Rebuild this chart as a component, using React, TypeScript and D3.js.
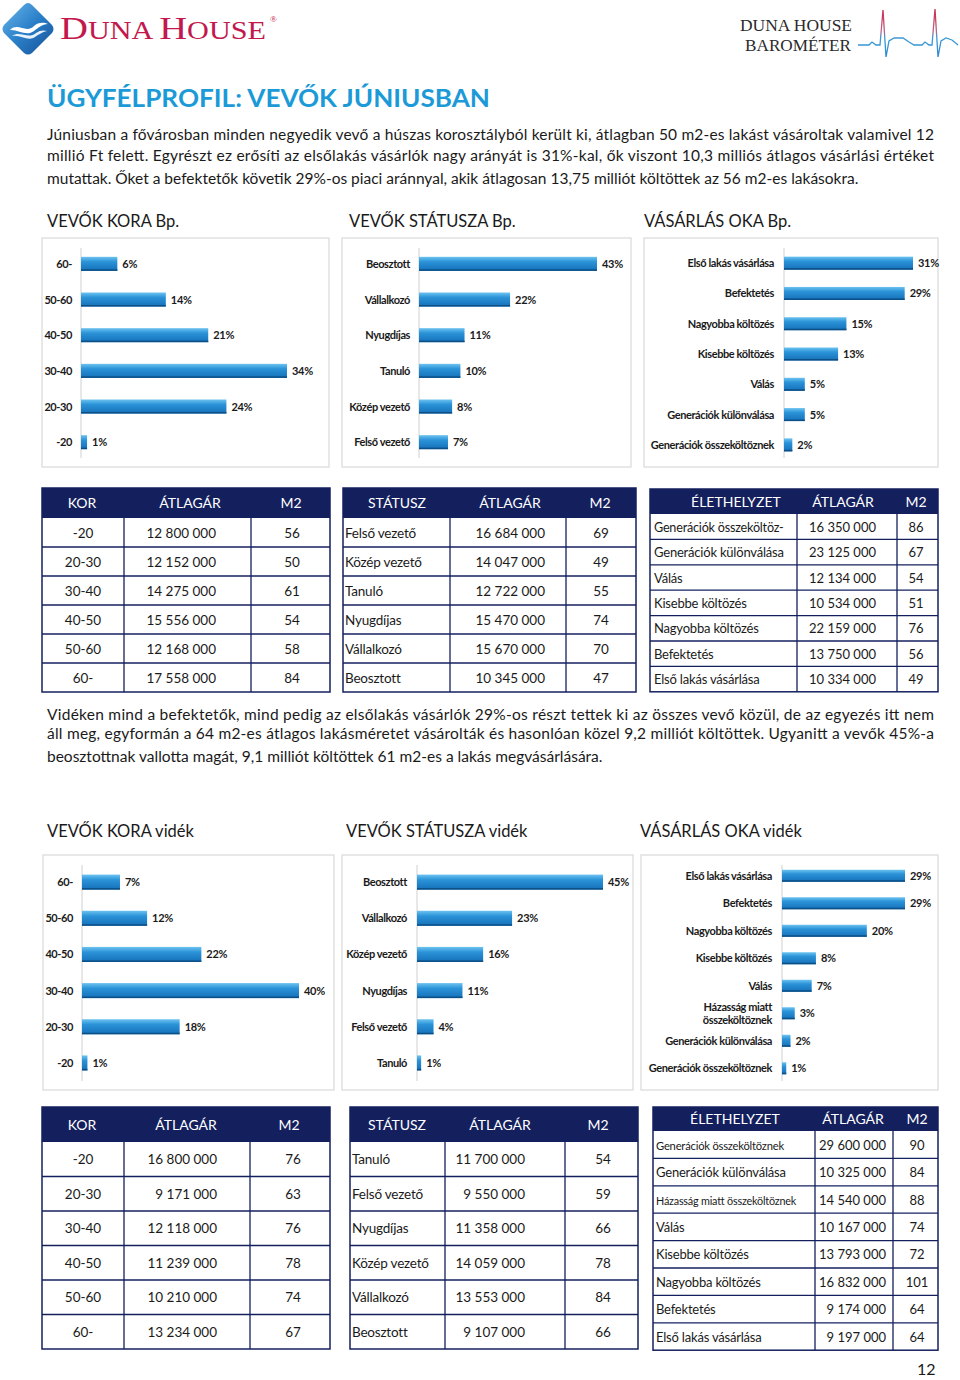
import React from "react";
import * as d3 from "d3";

const FONT = "Lato, 'Open Sans', sans-serif";
const NAVY = "#14205e";
const TEXT = "#1a1a1a";

// ---------- Bar chart data ----------
const ageCats = ["60-", "50-60", "40-50", "30-40", "20-30", "-20"];
const ageBpVals = [6, 14, 21, 34, 24, 1];
const ageVidVals = [7, 12, 22, 40, 18, 1];

const statusBpCats = ["Beosztott", "Vállalkozó", "Nyugdíjas", "Tanuló", "Közép vezető", "Felső vezető"];
const statusBpVals = [43, 22, 11, 10, 8, 7];
const statusVidCats = ["Beosztott", "Vállalkozó", "Közép vezető", "Nyugdíjas", "Felső vezető", "Tanuló"];
const statusVidVals = [45, 23, 16, 11, 4, 1];

const reasonBpCats = [
  "Első lakás vásárlása",
  "Befektetés",
  "Nagyobba költözés",
  "Kisebbe költözés",
  "Válás",
  "Generációk különválása",
  "Generációk összeköltöznek",
];
const reasonBpVals = [31, 29, 15, 13, 5, 5, 2];
const reasonVidCats = [
  "Első lakás vásárlása",
  "Befektetés",
  "Nagyobba költözés",
  "Kisebbe költözés",
  "Válás",
  "Házasság miatt\nösszeköltöznek",
  "Generációk különválása",
  "Generációk összeköltöznek",
];
const reasonVidVals = [29, 29, 20, 8, 7, 3, 2, 1];

// ---------- Table data ----------
const ageTblCats = ["-20", "20-30", "30-40", "40-50", "50-60", "60-"];
const ageTblPriceBp = ["12 800 000", "12 152 000", "14 275 000", "15 556 000", "12 168 000", "17 558 000"];
const ageTblM2Bp = ["56", "50", "61", "54", "58", "84"];
const ageTblPriceVid = ["16 800 000", "9 171 000", "12 118 000", "11 239 000", "10 210 000", "13 234 000"];
const ageTblM2Vid = ["76", "63", "76", "78", "74", "67"];

const statusTblCatsBp = ["Felső vezető", "Közép vezető", "Tanuló", "Nyugdíjas", "Vállalkozó", "Beosztott"];
const statusTblPriceBp = ["16 684 000", "14 047 000", "12 722 000", "15 470 000", "15 670 000", "10 345 000"];
const statusTblM2Bp = ["69", "49", "55", "74", "70", "47"];
const statusTblCatsVid = ["Tanuló", "Felső vezető", "Nyugdíjas", "Közép vezető", "Vállalkozó", "Beosztott"];
const statusTblPriceVid = ["11 700 000", "9 550 000", "11 358 000", "14 059 000", "13 553 000", "9 107 000"];
const statusTblM2Vid = ["54", "59", "66", "78", "84", "66"];

const lifeTblCatsBp = [
  "Generációk összeköltöz-",
  "Generációk különválása",
  "Válás",
  "Kisebbe költözés",
  "Nagyobba költözés",
  "Befektetés",
  "Első lakás vásárlása",
];
const lifeTblPriceBp = ["16 350 000", "23 125 000", "12 134 000", "10 534 000", "22 159 000", "13 750 000", "10 334 000"];
const lifeTblM2Bp = ["86", "67", "54", "51", "76", "56", "49"];
const lifeTblCatsVid = [
  "Generációk összeköltöznek",
  "Generációk különválása",
  "Házasság miatt összeköltöznek",
  "Válás",
  "Kisebbe költözés",
  "Nagyobba költözés",
  "Befektetés",
  "Első lakás vásárlása",
];
const lifeTblPriceVid = ["29 600 000", "10 325 000", "14 540 000", "10 167 000", "13 793 000", "16 832 000", "9 174 000", "9 197 000"];
const lifeTblM2Vid = ["90", "84", "88", "74", "72", "101", "64", "64"];

// ---------- Texts ----------
const para1 = [
  "Júniusban a fővárosban minden negyedik vevő a húszas korosztályból került ki, átlagban 50 m2-es lakást vásároltak valamivel 12",
  "millió Ft felett. Egyrészt ez erősíti az elsőlakás vásárlók nagy arányát is 31%-kal, ők viszont 10,3 milliós átlagos vásárlási értéket",
  "mutattak. Őket a befektetők követik 29%-os piaci aránnyal, akik átlagosan 13,75 milliót költöttek az 56 m2-es lakásokra.",
];
const para2 = [
  "Vidéken mind a befektetők, mind pedig az elsőlakás vásárlók 29%-os részt tettek ki az összes vevő közül, de az egyezés itt nem",
  "áll meg, egyformán a 64 m2-es átlagos lakásméretet vásárolták és hasonlóan közel 9,2 milliót költöttek. Ugyanitt a vevők 45%-a",
  "beosztottnak vallotta magát, 9,1 milliót költöttek 61 m2-es a lakás megvásárlására.",
];

type BarProps = {
  box: [number, number, number, number];
  cats: string[];
  vals: number[];
  axisX: number;
  endX: number;
  yRange: [number, number];
  barH: number;
  labelGap: number;
};

function BarChart({ box, cats, vals, axisX, endX, yRange, barH, labelGap }: BarProps) {
  const max = d3.max(vals) as number;
  const x = d3.scaleLinear().domain([0, max]).range([axisX, endX]);
  const step = (yRange[1] - yRange[0]) / cats.length;
  const pad = 1 - barH / step;
  const y = d3.scaleBand<string>().domain(cats).range(yRange).paddingInner(pad).paddingOuter(pad / 2);
  return (
    <g>
      <rect x={box[0]} y={box[1]} width={box[2] - box[0]} height={box[3] - box[1]} fill="#fff" stroke="#d9d9d9" strokeWidth={1.2} />
      <line x1={axisX} x2={axisX} y1={box[1] + 10} y2={box[3] - 9} stroke="#d0d0d0" strokeWidth={1} />
      {cats.map((c, i) => {
        const by = y(c) as number;
        const bw = y.bandwidth();
        const cy = by + bw / 2;
        const lines = c.split("\n");
        return (
          <g key={c}>
            <rect x={axisX} y={by} width={x(vals[i]) - axisX} height={bw} fill="url(#barGrad)" />
            <rect x={axisX} y={by + bw - 1.5} width={x(vals[i]) - axisX} height={1.5} fill="#0b4f86" />
            <text
              x={x(vals[i]) + 5}
              y={cy + 4}
              fontFamily={FONT}
              fontWeight={700}
              fontSize={11}
              letterSpacing={-0.3}
              fill={TEXT}
            >
              {vals[i] + "%"}
            </text>
            <text
              x={axisX - labelGap}
              y={cy + 4 - (lines.length - 1) * 6.5}
              textAnchor="end"
              fontFamily={FONT}
              fontWeight={700}
              fontSize={11}
              letterSpacing={-0.4}
              fill={TEXT}
            >
              {lines.map((l, k) => (
                <tspan key={k} x={axisX - labelGap} dy={k === 0 ? 0 : 13}>
                  {l}
                </tspan>
              ))}
            </text>
          </g>
        );
      })}
    </g>
  );
}

type TableProps = {
  xs: number[];
  headTop: number;
  headBot: number;
  rowH: number;
  headers: string[];
  headerX: number[];
  cats: string[];
  prices: string[];
  m2: string[];
  catAlign: "center" | "left";
  catX: number;
  priceX: number;
  m2X: number;
  fontSize: number;
  catSizes?: number[];
};

function Table(p: TableProps) {
  const n = p.cats.length;
  const bottom = p.headBot + n * p.rowH;
  const x0 = p.xs[0];
  const x3 = p.xs[p.xs.length - 1];
  return (
    <g fontFamily={FONT}>
      <rect x={x0} y={p.headTop} width={x3 - x0} height={bottom - p.headTop} fill="#fff" stroke={NAVY} strokeWidth={1.5} />
      <rect x={x0} y={p.headTop} width={x3 - x0} height={p.headBot - p.headTop} fill={NAVY} />
      {p.headers.map((h, i) => (
        <text key={h} x={p.headerX[i]} y={(p.headTop + p.headBot) / 2 + 5} textAnchor="middle" fill="#fff" fontSize={14}>
          {h}
        </text>
      ))}
      {d3.range(1, n).map((i) => (
        <line key={"h" + i} x1={x0} x2={x3} y1={p.headBot + i * p.rowH} y2={p.headBot + i * p.rowH} stroke={NAVY} strokeWidth={1.3} />
      ))}
      {p.xs.slice(1, -1).map((xx, i) => (
        <line key={"v" + i} x1={xx} x2={xx} y1={p.headBot} y2={bottom} stroke={NAVY} strokeWidth={1.3} />
      ))}
      {p.cats.map((c, i) => {
        const cy = p.headBot + (i + 0.5) * p.rowH + 5;
        const cs = p.catSizes ? p.catSizes[i] : p.fontSize;
        return (
          <g key={i} fill={TEXT}>
            <text
              x={p.catX}
              y={cy}
              textAnchor={p.catAlign === "center" ? "middle" : "start"}
              fontSize={cs}
              letterSpacing={p.catAlign === "left" ? -0.2 : 0}
            >
              {c}
            </text>
            <text x={p.priceX} y={cy} textAnchor="end" fontSize={p.fontSize}>
              {p.prices[i]}
            </text>
            <text x={p.m2X} y={cy} textAnchor="middle" fontSize={p.fontSize}>
              {p.m2[i]}
            </text>
          </g>
        );
      })}
    </g>
  );
}

function Paragraph({ lines, y0 }: { lines: string[]; y0: number[] }) {
  return (
    <g fontFamily={FONT} fontSize={15.5} fill={TEXT}>
      {lines.map((l, i) =>
        i < lines.length - 1 ? (
          <text key={i} x={47} y={y0[i]} textLength={887} lengthAdjust="spacing">
            {l}
          </text>
        ) : (
          <text key={i} x={47} y={y0[i]}>
            {l}
          </text>
        )
      )}
    </g>
  );
}

export default function App() {
  return (
    <svg width={960} height={1380} style={{ position: "absolute", left: 0, top: 0, background: "#fff" }}>
      <defs>
        <linearGradient id="barGrad" x1="0" y1="0" x2="0" y2="1">
          <stop offset="0" stopColor="#6cc3f0" />
          <stop offset="0.35" stopColor="#2b93d8" />
          <stop offset="1" stopColor="#1570b8" />
        </linearGradient>
        <linearGradient id="logoGrad" x1="0" y1="0" x2="1" y2="1">
          <stop offset="0" stopColor="#6ab7ea" />
          <stop offset="0.5" stopColor="#2a7fc8" />
          <stop offset="1" stopColor="#174f96" />
        </linearGradient>
        <linearGradient id="beatGrad" x1="0" y1="8" x2="0" y2="58" gradientUnits="userSpaceOnUse">
          <stop offset="0" stopColor="#c8284c" />
          <stop offset="0.45" stopColor="#c06080" />
          <stop offset="0.6" stopColor="#3a9ad6" />
          <stop offset="1" stopColor="#2a8ad0" />
        </linearGradient>
      </defs>
      <rect x={0} y={0} width={960} height={1380} fill="#fff" />

      {/* Logo */}
      <g>
        <path d="M28,3 Q30,3 32,5 L52,25 Q55,29 52,33 L32,53 Q28,56 24,53 L4,33 Q1,29 4,25 L24,5 Q26,3 28,3 Z" fill="url(#logoGrad)" />
        <path d="M10,30 C18,22 26,34 34,26 C38,22 44,22 48,24 C42,24 38,28 34,31 C26,37 18,29 10,30 Z" fill="#fff" />
        <path d="M12,36 C20,30 28,40 36,33 C40,30 44,30 47,31 C42,32 38,35 35,37 C28,42 20,34 12,36 Z" fill="#fff" opacity={0.9} />
        <text x={60} y={39} fontFamily="'Liberation Serif', serif" fill="#c2184d" textLength={206} lengthAdjust="spacingAndGlyphs">
          <tspan fontSize={32}>D</tspan>
          <tspan fontSize={25}>UNA </tspan>
          <tspan fontSize={32}>H</tspan>
          <tspan fontSize={25}>OUSE</tspan>
        </text>
        <text x={270} y={22} fontFamily="'Liberation Serif', serif" fontSize={9} fill="#c2184d">
          ®
        </text>
      </g>
      <g fontFamily="'Liberation Serif', serif" fontSize={17} fill="#2a2a2a">
        <text x={740} y={31} textLength={112} lengthAdjust="spacingAndGlyphs">DUNA HOUSE</text>
        <text x={745} y={51} textLength={106} lengthAdjust="spacingAndGlyphs">BAROMÉTER</text>
      </g>
      <path
        d="M858,45 L869,45 L872,42 L876,45 L880,45 L883,10 L886,57 L889,41 L894,38 L903,38 L909,42 L914,45 L922,45 L925,42 L929,45 L932,45 L935,9 L938,57 L941,41 L946,38 L952,40 L958,45"
        fill="none"
        stroke="url(#beatGrad)"
        strokeWidth={1.3}
      />

      {/* Title */}
      <text x={47} y={107} fontFamily={FONT} fontWeight={700} fontSize={25} fill="#1b9ad7" textLength={443} lengthAdjust="spacingAndGlyphs">
        ÜGYFÉLPROFIL: VEVŐK JÚNIUSBAN
      </text>

      <Paragraph lines={para1} y0={[140, 161, 184]} />

      <g fontFamily={FONT} fontSize={16.5} fill={TEXT}>
        <text x={47} y={227}>VEVŐK KORA Bp.</text>
        <text x={349} y={227}>VEVŐK STÁTUSZA Bp.</text>
        <text x={644} y={227}>VÁSÁRLÁS OKA Bp.</text>
      </g>

      <BarChart box={[42, 238, 329, 467]} cats={ageCats} vals={ageBpVals} axisX={81} endX={287} yRange={[246, 460]} barH={14} labelGap={9} />
      <BarChart box={[342, 238, 631, 467]} cats={statusBpCats} vals={statusBpVals} axisX={419} endX={597} yRange={[246, 460]} barH={14} labelGap={9} />
      <BarChart box={[644, 238, 938, 467]} cats={reasonBpCats} vals={reasonBpVals} axisX={784} endX={913} yRange={[248, 460]} barH={13} labelGap={10} />

      <Table
        xs={[42, 124, 251, 330]}
        headTop={488}
        headBot={518}
        rowH={29}
        headers={["KOR", "ÁTLAGÁR", "M2"]}
        headerX={[82, 190, 291]}
        cats={ageTblCats}
        prices={ageTblPriceBp}
        m2={ageTblM2Bp}
        catAlign="center"
        catX={83}
        priceX={216}
        m2X={292}
        fontSize={13.5}
      />
      <Table
        xs={[343, 450, 566, 636]}
        headTop={488}
        headBot={518}
        rowH={29}
        headers={["STÁTUSZ", "ÁTLAGÁR", "M2"]}
        headerX={[397, 510, 600]}
        cats={statusTblCatsBp}
        prices={statusTblPriceBp}
        m2={statusTblM2Bp}
        catAlign="left"
        catX={345}
        priceX={545}
        m2X={601}
        fontSize={13.5}
      />
      <Table
        xs={[650, 797, 897, 938]}
        headTop={489}
        headBot={514}
        rowH={25.4}
        headers={["ÉLETHELYZET", "ÁTLAGÁR", "M2"]}
        headerX={[736, 843, 916]}
        cats={lifeTblCatsBp}
        prices={lifeTblPriceBp}
        m2={lifeTblM2Bp}
        catAlign="left"
        catX={654}
        priceX={876}
        m2X={916}
        fontSize={13}
        catSizes={[12.6, 13, 13, 13, 13, 13, 13]}
      />

      <Paragraph lines={para2} y0={[720, 739, 762]} />

      <g fontFamily={FONT} fontSize={16.5} fill={TEXT}>
        <text x={47} y={837}>VEVŐK KORA vidék</text>
        <text x={346} y={837}>VEVŐK STÁTUSZA vidék</text>
        <text x={640} y={837}>VÁSÁRLÁS OKA vidék</text>
      </g>

      <BarChart box={[43, 855, 334, 1090]} cats={ageCats} vals={ageVidVals} axisX={82} endX={299} yRange={[864, 1081]} barH={15} labelGap={9} />
      <BarChart box={[342, 855, 633, 1090]} cats={statusVidCats} vals={statusVidVals} axisX={417} endX={603} yRange={[864, 1081]} barH={15} labelGap={10} />
      <BarChart box={[641, 855, 938, 1090]} cats={reasonVidCats} vals={reasonVidVals} axisX={782} endX={905} yRange={[862, 1082]} barH={12} labelGap={10} />

      <Table
        xs={[42, 124, 250, 330]}
        headTop={1107}
        headBot={1142}
        rowH={34.5}
        headers={["KOR", "ÁTLAGÁR", "M2"]}
        headerX={[82, 186, 289]}
        cats={ageTblCats}
        prices={ageTblPriceVid}
        m2={ageTblM2Vid}
        catAlign="center"
        catX={83}
        priceX={217}
        m2X={293}
        fontSize={13.5}
      />
      <Table
        xs={[350, 445, 565, 638]}
        headTop={1107}
        headBot={1142}
        rowH={34.5}
        headers={["STÁTUSZ", "ÁTLAGÁR", "M2"]}
        headerX={[397, 500, 598]}
        cats={statusTblCatsVid}
        prices={statusTblPriceVid}
        m2={statusTblM2Vid}
        catAlign="left"
        catX={352}
        priceX={525}
        m2X={603}
        fontSize={13.5}
      />
      <Table
        xs={[653, 815, 893, 938]}
        headTop={1107}
        headBot={1131}
        rowH={27.4}
        headers={["ÉLETHELYZET", "ÁTLAGÁR", "M2"]}
        headerX={[735, 853, 917]}
        cats={lifeTblCatsVid}
        prices={lifeTblPriceVid}
        m2={lifeTblM2Vid}
        catAlign="left"
        catX={656}
        priceX={886}
        m2X={917}
        fontSize={13}
        catSizes={[11.2, 13, 10.8, 13, 13, 13, 13, 13]}
      />

      <text x={917} y={1375} fontFamily={FONT} fontSize={16} fill={TEXT}>
        12
      </text>
    </svg>
  );
}
